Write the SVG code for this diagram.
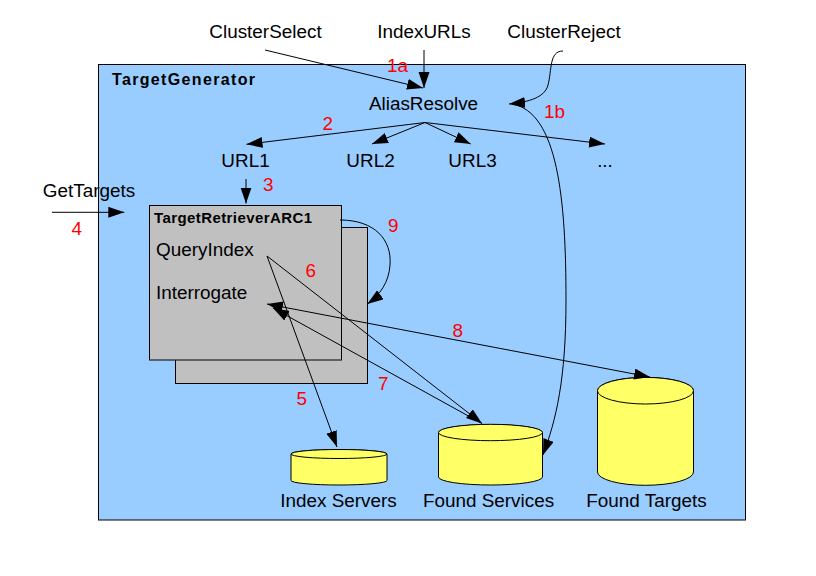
<svg xmlns="http://www.w3.org/2000/svg" width="816" height="576" viewBox="0 0 816 576">
<defs>
<marker id="ah" markerUnits="userSpaceOnUse" markerWidth="17" markerHeight="12" refX="16" refY="5.5" orient="auto-start-reverse" viewBox="0 0 17 12">
<path d="M0,0 L16,5.5 L0,11 z" fill="#000"/>
</marker>
<style>
text{font-family:"Liberation Sans",Arial,sans-serif;fill:#000}
.t{font-size:18.9px}
.n{font-size:18.9px;fill:#ff0000}
.b{font-weight:bold}
.ln{fill:none;stroke:#000;stroke-width:1}
.cyl{fill:#ffff66;stroke:#000;stroke-width:1}
.box{fill:#c0c0c0;stroke:#000;stroke-width:1}
</style>
</defs>
<rect width="816" height="576" fill="#fff"/>

<g id="TargetGenerator">
<rect x="98.5" y="64.5" width="647" height="455.5" fill="#99ccff" stroke="#000" stroke-width="1"/>
<text class="b" x="112" y="85" font-size="16" textLength="143" lengthAdjust="spacing">TargetGenerator</text>
</g>

<g id="ClusterSelect"><text class="t" x="265.5" y="38" text-anchor="middle">ClusterSelect</text></g>
<g id="IndexURLs"><text class="t" x="424" y="38" text-anchor="middle">IndexURLs</text></g>
<g id="ClusterReject"><text class="t" x="564" y="38" text-anchor="middle">ClusterReject</text></g>
<g id="AliasResolve"><text class="t" x="423.5" y="110" text-anchor="middle">AliasResolve</text></g>
<g id="URL1"><text class="t" x="245.5" y="167" text-anchor="middle">URL1</text></g>
<g id="URL2"><text class="t" x="370.5" y="167" text-anchor="middle">URL2</text></g>
<g id="URL3"><text class="t" x="472.5" y="167" text-anchor="middle">URL3</text></g>
<g id="URLmore"><text class="t" x="605" y="167" text-anchor="middle">...</text></g>
<g id="GetTargets"><text class="t" x="89" y="197" text-anchor="middle">GetTargets</text></g>

<g id="TargetRetrieverARC1">
<rect class="box" x="175.5" y="227.5" width="192" height="156"/>
<rect class="box" x="149.5" y="205.5" width="192" height="154.5"/>
<text class="b" x="154" y="223" font-size="15" textLength="158" lengthAdjust="spacing">TargetRetrieverARC1</text>
<text class="t" x="156" y="256">QueryIndex</text>
<text class="t" x="156" y="299">Interrogate</text>
</g>

<g id="IndexServers">
<path class="cyl" d="M291,454 L291,480.5 A48,4.5 0 0 0 387,480.5 L387,454 A48,4.5 0 0 0 291,454 Z"/>
<ellipse class="cyl" cx="339" cy="454" rx="48" ry="4.5"/>
<text class="t" x="338.5" y="507" text-anchor="middle">Index Servers</text>
</g>
<g id="FoundServices">
<path class="cyl" d="M438.5,432.5 L438.5,477 A52,8 0 0 0 542.5,477 L542.5,432.5 A52,8 0 0 0 438.5,432.5 Z"/>
<ellipse class="cyl" cx="490.5" cy="432.5" rx="52" ry="8.2"/>
<text class="t" x="488.5" y="507" text-anchor="middle">Found Services</text>
</g>
<g id="FoundTargets">
<path class="cyl" d="M597.5,390.7 L597.5,472 A48,13.3 0 0 0 693.5,472 L693.5,390.7 A48,13.3 0 0 0 597.5,390.7 Z"/>
<ellipse class="cyl" cx="645.5" cy="390.7" rx="48" ry="13.3"/>
<text class="t" x="646.5" y="507" text-anchor="middle">Found Targets</text>
</g>

<g id="connectors">
<line class="ln" x1="265" y1="50" x2="423" y2="88" marker-end="url(#ah)"/>
<line class="ln" x1="424" y1="50" x2="424" y2="88" marker-end="url(#ah)"/>
<path class="ln" d="M563,51 C549,51 552,70 548,85 C545,97 530,102 509,104" marker-end="url(#ah)"/>
<path class="ln" d="M512,104 C558,112 566,200 566,300 C566,380 556,420 543,455" marker-end="url(#ah)"/>
<line class="ln" x1="425" y1="122.5" x2="246.5" y2="144.3" marker-end="url(#ah)"/>
<line class="ln" x1="425" y1="122.5" x2="372" y2="144" marker-end="url(#ah)"/>
<line class="ln" x1="425" y1="122.5" x2="470.7" y2="144" marker-end="url(#ah)"/>
<line class="ln" x1="425" y1="122.5" x2="605" y2="144" marker-end="url(#ah)"/>
<line class="ln" x1="246" y1="179" x2="246" y2="203.5" marker-end="url(#ah)"/>
<line class="ln" x1="52" y1="212.3" x2="124.3" y2="212.3" marker-end="url(#ah)"/>
<path class="ln" d="M340,220 C375,220 392,240 390,265 C389,282 380,295 367.3,304" marker-end="url(#ah)"/>
<line class="ln" x1="267" y1="256" x2="337" y2="447" marker-end="url(#ah)"/>
<line class="ln" x1="267" y1="256" x2="482" y2="423.5" marker-end="url(#ah)"/>
<line class="ln" x1="482" y1="423.5" x2="273" y2="308" marker-end="url(#ah)"/>
<line class="ln" x1="267" y1="304" x2="650" y2="377" marker-start="url(#ah)" marker-end="url(#ah)"/>
</g>

<g id="labels">
<text class="n" x="387" y="72">1a</text>
<text class="n" x="544" y="118">1b</text>
<text class="n" x="322.5" y="130">2</text>
<text class="n" x="263" y="191">3</text>
<text class="n" x="71.5" y="234.5">4</text>
<text class="n" x="296.5" y="405">5</text>
<text class="n" x="305.5" y="277">6</text>
<text class="n" x="378" y="390">7</text>
<text class="n" x="452.5" y="337">8</text>
<text class="n" x="388" y="232">9</text>
</g>
</svg>
